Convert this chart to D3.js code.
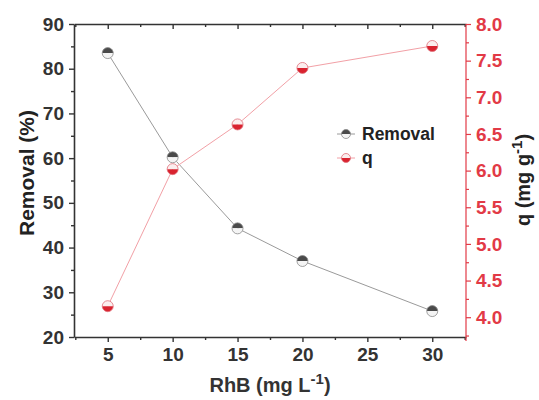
<!DOCTYPE html>
<html>
<head>
<meta charset="utf-8">
<script src="https://cdn.jsdelivr.net/npm/d3@7"></script>
<style>
body{margin:0;background:#fff}
svg{font-family:"Liberation Sans",Arial,sans-serif;font-weight:bold}
</style>
</head>
<body>
<div id="w"></div>
<script>
var conc = [5, 10, 15, 20, 30]
var removal = [83.5, 60.2, 44.3, 37.0, 25.8]
var qVals = [4.15, 6.02, 6.63, 7.40, 7.70]
var xTicks = [5, 10, 15, 20, 25, 30]
var yLeftTicks = [20, 30, 40, 50, 60, 70, 80, 90]
var yRightTicks = [4.0, 4.5, 5.0, 5.5, 6.0, 6.5, 7.0, 7.5, 8.0]

var W = 539, H = 400
var m = {l:74, r:73, t:24, b:63}
var red = "#e23a46", grey = "#333"

var svg = d3.select("#w").append("svg").attr("width", W).attr("height", H)

var x = d3.scaleLinear().domain([2.4, 32.6]).range([m.l, W - m.r])
var yL = d3.scaleLinear().domain([20, 90]).range([H - m.b, m.t])
var yR = d3.scaleLinear().domain([3.73, 8.0]).range([H - m.b, m.t])

// minor ticks
var xMinor = d3.range(2.5, 32.6, 2.5).filter(function(v){return v % 5 != 0})
var yLMinor = d3.range(25, 90, 10)
var yRMinor = d3.range(3.75, 8, 0.5)

// bottom axis
var gx = svg.append("g").attr("transform", "translate(0," + (H - m.b) + ")")
gx.call(d3.axisBottom(x).tickValues(xTicks).tickSize(5).tickPadding(6).tickSizeOuter(0))
gx.append("g").call(d3.axisBottom(x).tickValues(xMinor).tickSize(3).tickFormat(""))
  .select(".domain").remove()
// top axis
var gt = svg.append("g").attr("transform", "translate(0," + m.t + ")")
gt.call(d3.axisBottom(x).tickValues(xTicks).tickSize(5).tickFormat("").tickSizeOuter(0))
gt.append("g").call(d3.axisBottom(x).tickValues(xMinor).tickSize(3).tickFormat(""))
  .select(".domain").remove()

// left axis
var gl = svg.append("g").attr("transform", "translate(" + m.l + ",0)")
gl.call(d3.axisLeft(yL).tickValues(yLeftTicks).tickSize(5).tickPadding(5).tickSizeOuter(0))
gl.append("g").call(d3.axisLeft(yL).tickValues(yLMinor).tickSize(3).tickFormat(""))
  .select(".domain").remove()

// right axis
var gr = svg.append("g").attr("transform", "translate(" + (W - m.r) + ",0)")
gr.call(d3.axisRight(yR).tickValues(yRightTicks).tickSize(5).tickPadding(5)
  .tickFormat(d3.format(".1f")).tickSizeOuter(0))
gr.append("g").call(d3.axisRight(yR).tickValues(yRMinor).tickSize(3).tickFormat(""))
  .select(".domain").remove()
gr.select(".domain").attr("d", "M0," + m.t + "V" + (H - m.b + 4))

svg.selectAll(".domain").attr("stroke", grey).attr("stroke-width", 1.6)
gx.selectAll("line").attr("stroke", grey).attr("stroke-width", 1.4)
gt.selectAll("line").attr("stroke", grey).attr("stroke-width", 1.4)
gl.selectAll("line").attr("stroke", grey).attr("stroke-width", 1.4)
gr.selectAll("line").attr("stroke", red).attr("stroke-width", 1.2)
gr.selectAll(".domain").attr("stroke", red).attr("stroke-width", 1.2)
svg.selectAll(".tick text").attr("font-size", 19).attr("font-family", "Liberation Sans, Arial, sans-serif")
  .attr("font-weight", "bold")
gx.selectAll(".tick text").attr("fill", grey)
gl.selectAll(".tick text").attr("fill", grey)
gr.selectAll(".tick text").attr("fill", red)

// lines
var lineL = d3.line().x(function(d, i){return x(conc[i])}).y(function(d){return yL(d)})
var lineR = d3.line().x(function(d, i){return x(conc[i])}).y(function(d){return yR(d)})
svg.append("path").attr("d", lineL(removal)).attr("fill", "none").attr("stroke", "#9a9a9a").attr("stroke-width", 1)
svg.append("path").attr("d", lineR(qVals)).attr("fill", "none").attr("stroke", "#f2a0a6").attr("stroke-width", 1)

function marker(g, kind, r) {
  var arcTop = d3.arc()({innerRadius:0, outerRadius:r, startAngle:-Math.PI/2, endAngle:Math.PI/2})
  var arcBot = d3.arc()({innerRadius:0, outerRadius:r, startAngle:Math.PI/2, endAngle:3*Math.PI/2})
  if (kind == "rem") {
    g.append("path").attr("d", arcTop).attr("fill", "#4a4a4a")
    g.append("path").attr("d", arcBot).attr("fill", "#f4f4f4")
    g.append("circle").attr("r", r).attr("fill", "none").attr("stroke", "#8a8a8a").attr("stroke-width", 0.8)
  } else {
    g.append("path").attr("d", arcTop).attr("fill", "#fbeeee")
    g.append("path").attr("d", arcBot).attr("fill", "#d9232f")
    g.append("circle").attr("r", r).attr("fill", "none").attr("stroke", "#e0707a").attr("stroke-width", 0.8)
  }
}

removal.forEach(function(d, i){
  marker(svg.append("g").attr("transform", "translate(" + x(conc[i]) + "," + yL(d) + ")"), "rem", 5.5)
})
qVals.forEach(function(d, i){
  marker(svg.append("g").attr("transform", "translate(" + x(conc[i]) + "," + yR(d) + ")"), "q", 5.5)
})

// legend
var leg = [["Removal", "rem", "#9a9a9a", 134], ["q", "q", "#f2a0a6", 158]]
leg.forEach(function(l){
  svg.append("line").attr("x1", 337).attr("x2", 355).attr("y1", l[3]).attr("y2", l[3])
    .attr("stroke", l[2]).attr("stroke-width", 1)
  marker(svg.append("g").attr("transform", "translate(346," + l[3] + ")"), l[1], 4.5)
  svg.append("text").attr("x", 362).attr("y", l[3] + 6).attr("font-size", 17.5).attr("fill", "#222").text(l[0])
})

// titles
svg.append("text").attr("x", 270).attr("y", 392).attr("text-anchor", "middle")
  .attr("font-size", 20).attr("fill", grey)
  .html('RhB (mg L<tspan dy="-8" font-size="15">-1</tspan><tspan dy="8">)</tspan>')
svg.append("text").attr("transform", "translate(34,173) rotate(-90)").attr("text-anchor", "middle")
  .attr("font-size", 21).attr("fill", "#222").text("Removal (%)")
svg.append("text").attr("transform", "translate(530,180) rotate(-90)").attr("text-anchor", "middle")
  .attr("font-size", 20).attr("fill", "#222")
  .html('q (mg g<tspan dy="-8" font-size="15">-1</tspan><tspan dy="8">)</tspan>')
</script>
</body>
</html>
